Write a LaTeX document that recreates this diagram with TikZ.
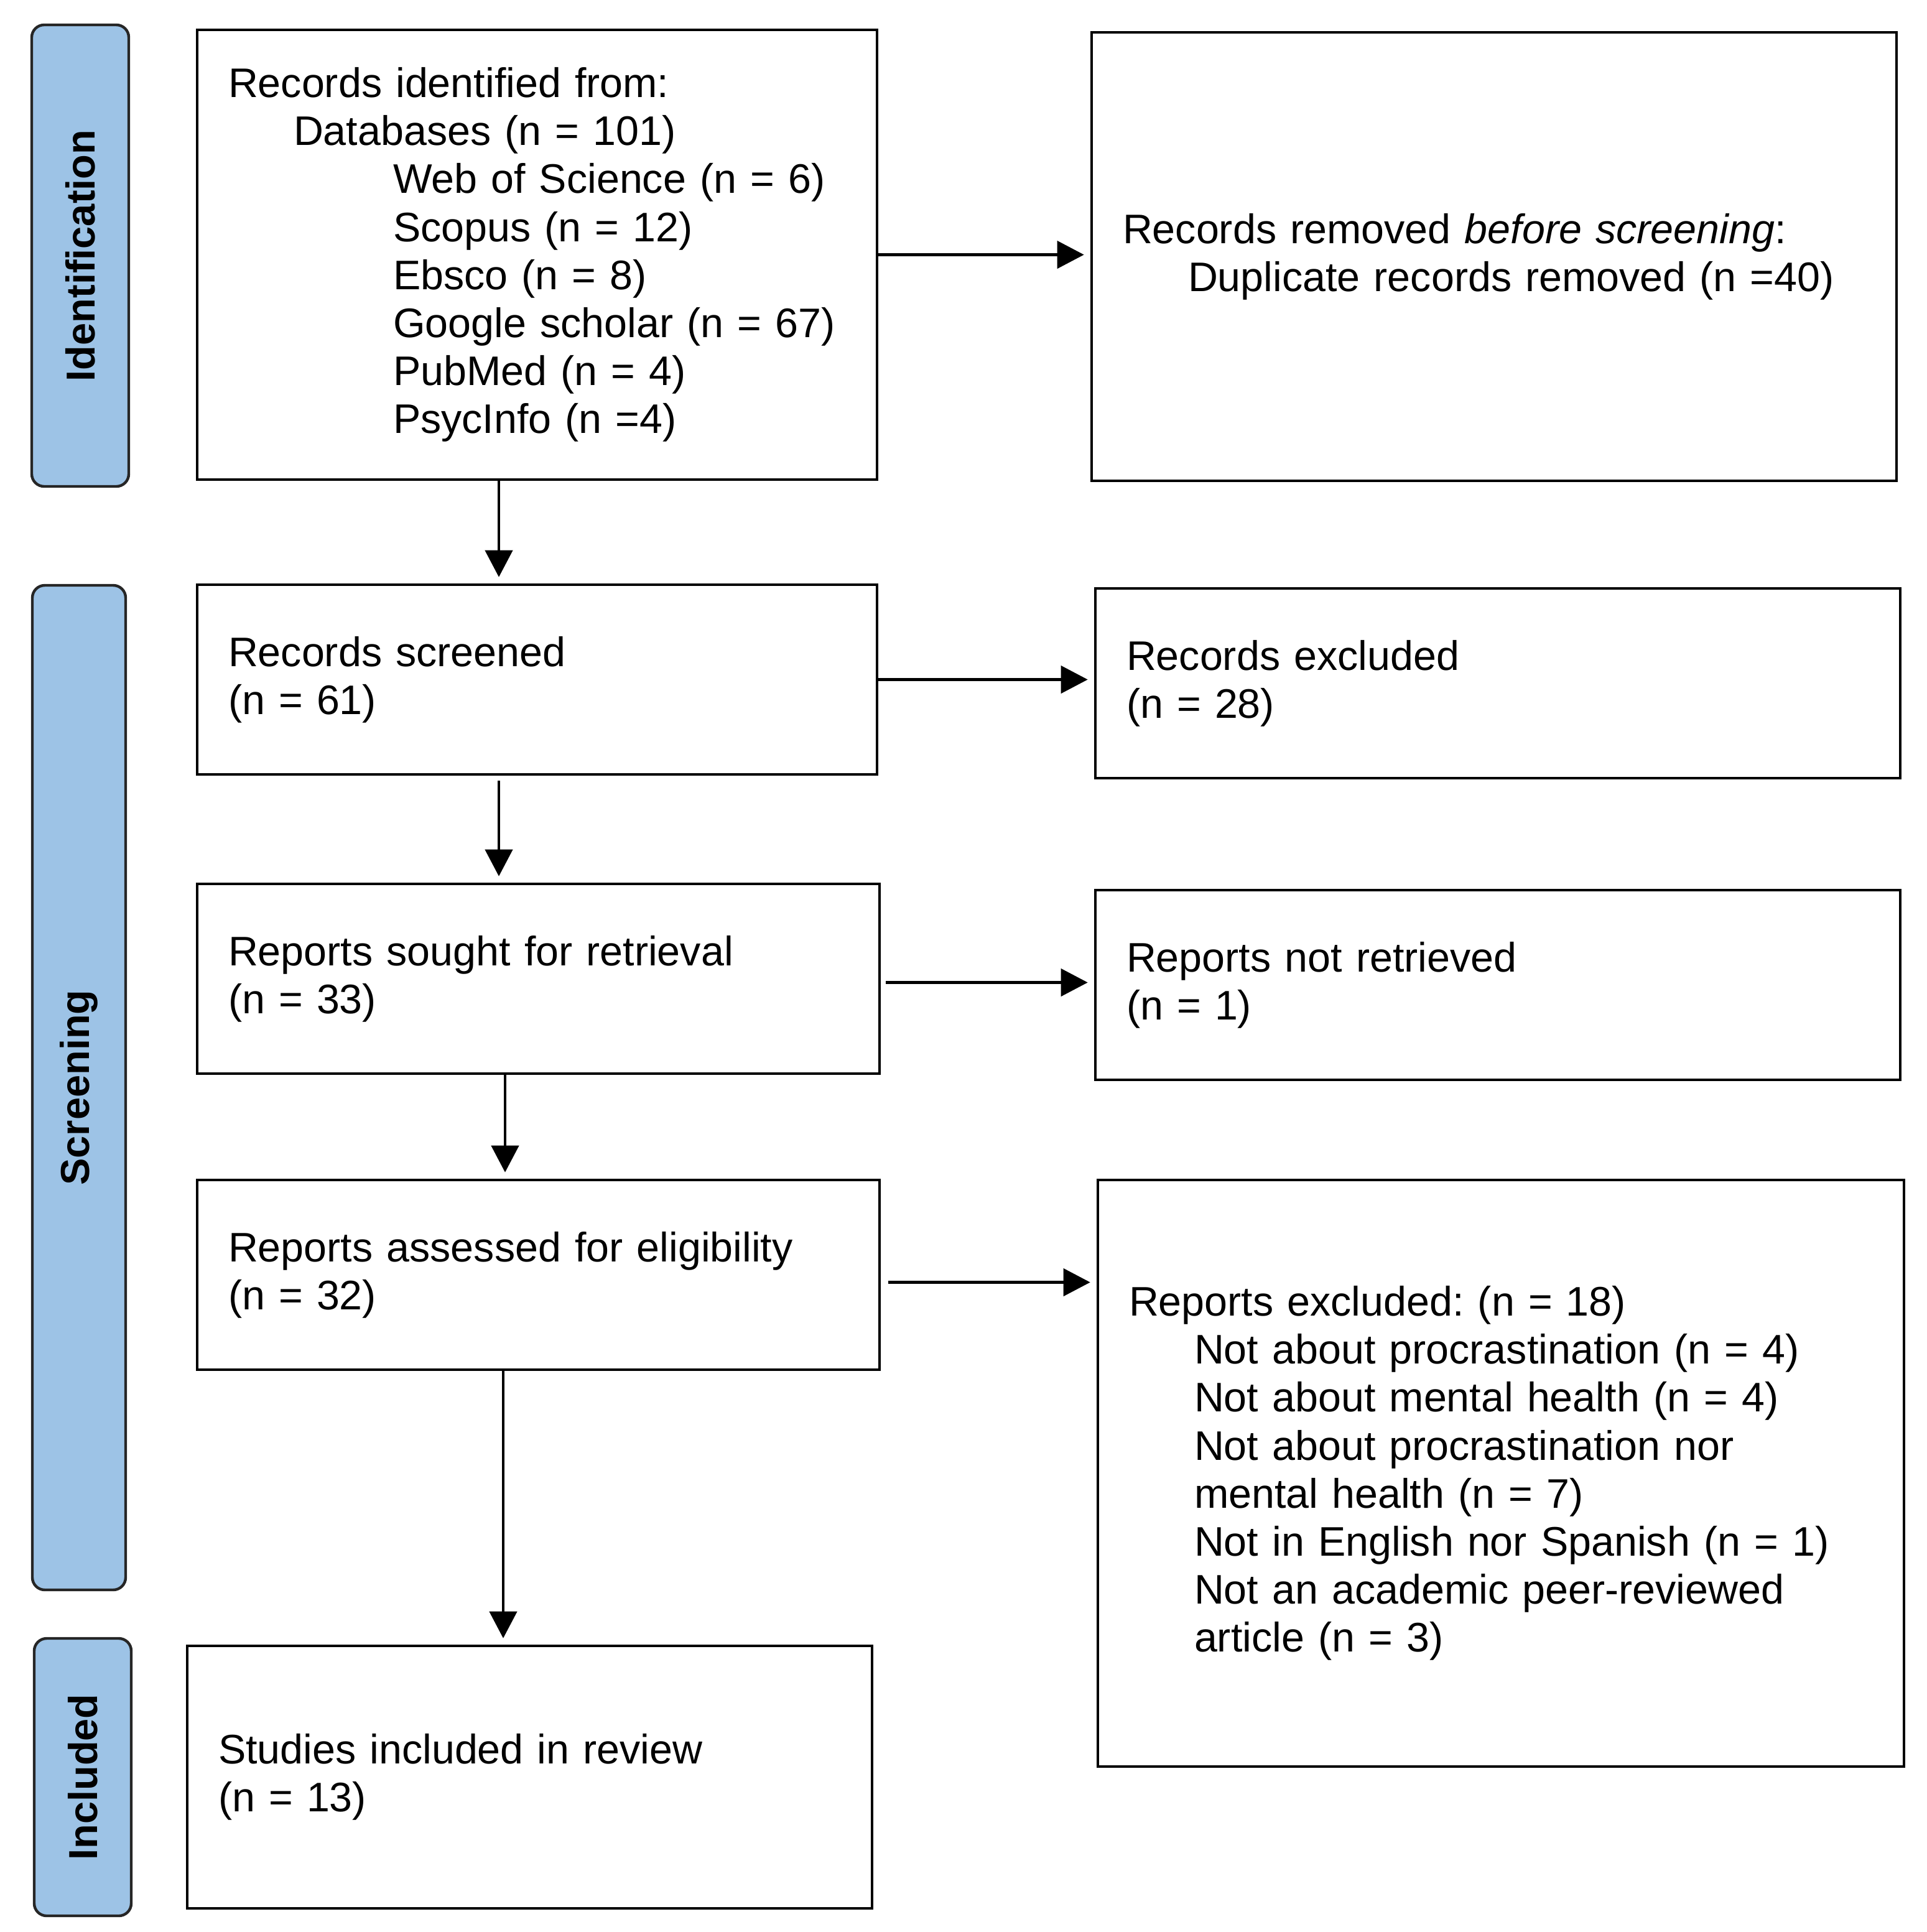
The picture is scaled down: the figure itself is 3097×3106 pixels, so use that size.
\documentclass[tikz,border=0pt]{standalone}
\usepackage{fontspec}
\setmainfont{Liberation Sans}
\usetikzlibrary{arrows.meta}
\definecolor{barblue}{HTML}{9DC3E6}
\newcommand\indA{\hspace*{26.25pt}}
\newcommand\indB{\hspace*{66.25pt}}
\frenchspacing
\begin{document}
\begin{tikzpicture}[x=0.25pt,y=-0.25pt,
  box/.style={draw=black, line width=1.15pt, rectangle, align=left,
    inner xsep=12.5pt, inner ysep=0pt,
    font=\fontsize{16.6pt}{19.3pt}\selectfont\frenchspacing},
  bar/.style={draw=black!85, fill=barblue, line width=1.1pt,
    rounded corners=5pt, rotate=90, inner sep=0pt,
    font=\fontsize{16.25pt}{19pt}\selectfont\bfseries},
  arr/.style={line width=1.1pt, shorten >=2.5pt,
    -{Triangle[length=10.75pt,width=11pt]}}]
\useasboundingbox (0,0) rectangle (3097,3106);

% phase bars
\node[bar, minimum width=185.5pt, minimum height=39pt] (bid) at (129,411) {Identification};
\node[bar, minimum width=403.75pt, minimum height=37.5pt] (bsc) at (127,1748.5) {Screening};
\node[bar, minimum width=111.5pt, minimum height=39pt] (bin) at (133,2857) {Included};

% boxes
\node[box, text width=248.25pt, minimum height=180.75pt] (rec) at (863.5,409.5)
 {Records identified from:\\
  \indA Databases (n = 101)\\
  \indB Web of Science (n = 6)\\
  \indB Scopus (n = 12)\\
  \indB Ebsco (n = 8)\\
  \indB Google scholar (n = 67)\\
  \indB PubMed (n = 4)\\
  \indB PsycInfo (n =4)};
\node[box, text width=298.5pt, minimum height=180.25pt] (dup) at (2402,412.5)
 {Records removed \textit{before screening}:\\
  \indA Duplicate records removed (n =40)};
\node[box, text width=248.25pt, minimum height=76.25pt] (scr) at (863.5,1092.5)
 {Records screened\\(n = 61)};
\node[box, text width=298.5pt, minimum height=76.25pt] (exc) at (2408,1098.5)
 {Records excluded\\(n = 28)};
\node[box, text width=249.25pt, minimum height=76.25pt] (sought) at (865.5,1573.5)
 {Reports sought for retrieval\\(n = 33)};
\node[box, text width=298.5pt, minimum height=76.25pt] (notret) at (2408,1583.5)
 {Reports not retrieved\\(n = 1)};
\node[box, text width=249.25pt, minimum height=76.25pt] (assess) at (865.5,2049.5)
 {Reports assessed for eligibility\\(n = 32)};
\node[box, text width=299pt, minimum height=235.75pt] (repexc) at (2413,2368.5)
 {Reports excluded: (n = 18)\\
  \indA Not about procrastination (n = 4)\\
  \indA Not about mental health (n = 4)\\
  \indA Not about procrastination nor\\
  \indA mental health (n = 7)\\
  \indA Not in English nor Spanish (n = 1)\\
  \indA Not an academic peer-reviewed\\
  \indA article (n = 3)};
\node[box, text width=250.25pt, minimum height=105.5pt] (incl) at (851.5,2857)
 {Studies included in review\\(n = 13)};

% helper coordinates for vertical connectors
\coordinate (v1) at (802,0);
\coordinate (v2) at (802,0);
\coordinate (v3) at (812,0);
\coordinate (v4) at (809,0);

% horizontal connectors
\draw[arr] (rec.east) -- (rec.east -| dup.west);
\draw[arr] (scr.east) -- (scr.east -| exc.west);
\draw[arr] ([xshift=2pt,yshift=-1.5pt]sought.east) -- ([yshift=-1.5pt]sought.east -| notret.west);
\draw[arr] ([xshift=3pt,yshift=-3pt]assess.east) -- ([yshift=-3pt]assess.east -| repexc.west);

% vertical connectors
\draw[arr] (rec.south -| v1) -- (scr.north -| v1);
\draw[arr] ([yshift=-2pt]scr.south -| v2) -- (sought.north -| v2);
\draw[arr] (sought.south -| v3) -- (assess.north -| v3);
\draw[arr] (assess.south -| v4) -- (incl.north -| v4);
\end{tikzpicture}
\end{document}
